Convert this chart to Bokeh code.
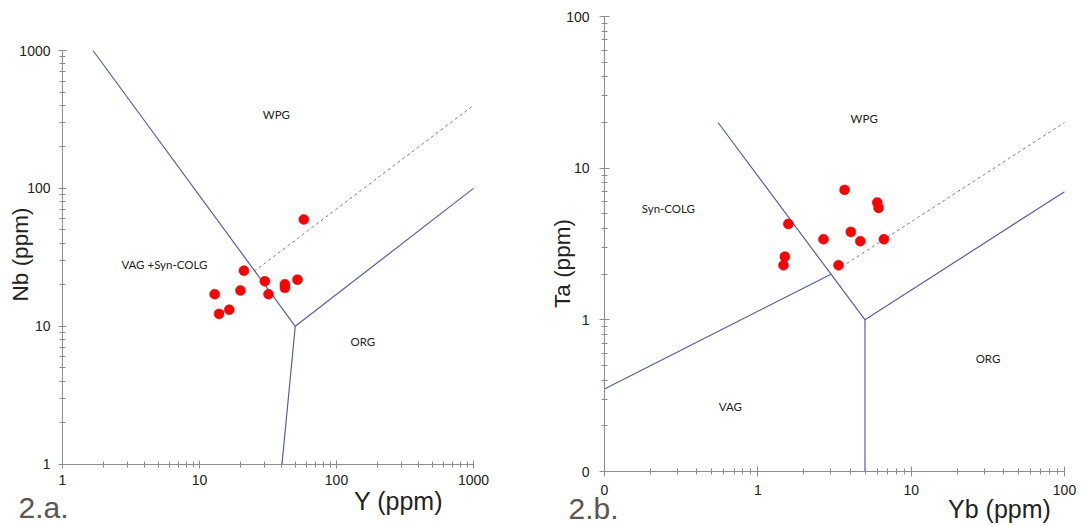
import math
from bokeh.plotting import figure
from bokeh.layouts import row
from bokeh.models import FixedTicker, Label
from bokeh.embed import file_html
from bokeh.resources import INLINE

# ---------------- Panel 2.a : Nb vs Y ----------------
y_ppm = [57.7, 21.1, 30.0, 42.0, 42.0, 51.9, 19.9, 31.9, 12.9, 16.5, 13.9]
nb_ppm = [59.5, 25.3, 21.2, 19.0, 20.2, 21.8, 18.2, 17.1, 17.1, 13.2, 12.3]

a_wpg_x, a_wpg_y = [1.67, 50], [1000, 10]
a_org_x, a_org_y = [50, 1000], [10, 100]
a_low_x, a_low_y = [50, 40], [10, 1]
a_dash_x, a_dash_y = [25, 1000], [25, 400]

a_ticks = [1, 10, 100, 1000]
a_tick_labels = ["1", "10", "100", "1000"]
a_region_names = ["WPG", "VAG +Syn-COLG", "ORG"]
a_region_x = [36.4, 5.54, 155.6]
a_region_y = [343, 27.9, 7.73]

# ---------------- Panel 2.b : Ta vs Yb ----------------
yb_ppm = [3.68, 6.01, 6.13, 1.58, 4.04, 2.68, 4.66, 6.64, 1.50, 1.47, 3.36]
ta_ppm = [7.19, 5.93, 5.47, 4.29, 3.80, 3.40, 3.30, 3.40, 2.61, 2.29, 2.29]

b_vag_x, b_vag_y = [0.1, 3], [0.35, 2]
b_wpg_x, b_wpg_y = [0.55, 3, 5], [20, 2, 1]
b_low_x, b_low_y = [5, 5], [1, 0.1]
b_org_x, b_org_y = [5, 100], [1, 7]
b_dash_x, b_dash_y = [3.8, 100], [2.35, 20]

b_ticks = [0.1, 1, 10, 100]
b_tick_labels = ["0", "1", "10", "100"]
b_region_names = ["WPG", "Syn-COLG", "VAG", "ORG"]
b_region_x = [4.94, 0.261, 0.662, 31.7]
b_region_y = [21.4, 5.41, 0.267, 0.552]

LINE = "#5d5d9a"
DASH = "#7a7aa6"
AXIS = "#8c8c8c"
TXT = "#222222"
PANEL = "#5c564f"
H = 526


def minor_ticks(ticks):
    out = []
    for t in ticks[:-1]:
        out += [m * t for m in range(2, 10)]
    return out


def log_range(lo, hi, p_lo, p_hi, size):
    """Range whose ends sit at the figure edges, so that lo/hi land at p_lo/p_hi px."""
    d = (math.log10(hi) - math.log10(lo)) / (p_hi - p_lo)
    return (10 ** (math.log10(lo) - p_lo * d), 10 ** (math.log10(lo) + (size - p_lo) * d))


def make_fig(width, ticks, xpx, ypx):
    lo, hi = ticks[0], ticks[-1]
    p = figure(width=width, height=H, x_axis_type="log", y_axis_type="log",
               x_range=log_range(lo, hi, xpx[0], xpx[1], width),
               y_range=log_range(lo, hi, ypx[0], ypx[1], H),
               output_backend="svg", toolbar_location=None,
               min_border=0, min_border_left=0, min_border_right=0,
               min_border_top=0, min_border_bottom=0,
               background_fill_color="white", border_fill_color="white")
    p.title.visible = False
    p.grid.visible = False
    p.outline_line_color = None
    return p


def style_axes(p, ticks, labels, xstand, ystand, major_len):
    tick_map = {t: l for t, l in zip(ticks, labels)}
    for ax, st in ((p.xaxis[0], xstand), (p.yaxis[0], ystand)):
        ax.fixed_location = ticks[0]
        ax.bounds = (ticks[0], ticks[-1])
        ax.ticker = FixedTicker(ticks=ticks, minor_ticks=minor_ticks(ticks))
        ax.major_label_overrides = tick_map
        ax.axis_line_color = AXIS
        ax.major_tick_line_color = AXIS
        ax.minor_tick_line_color = AXIS
        ax.major_tick_in = major_len
        ax.major_tick_out = major_len
        ax.minor_tick_in = 3
        ax.minor_tick_out = 3
        ax.major_label_standoff = st
        ax.major_label_text_font = "Liberation Sans"
        ax.major_label_text_font_size = "14px"
        ax.major_label_text_color = TXT


def region_labels(p, names, xs, ys):
    for n, x, y in zip(names, xs, ys):
        p.add_layout(Label(x=x, y=y, text=n, text_align="center", text_baseline="middle",
                           text_font="Lato", text_font_size="11.5px", text_color=TXT))


def titles(p, xlab, xlab_pos, ylab, ylab_pos, panel, panel_pos):
    p.add_layout(Label(x=xlab_pos[0], y=xlab_pos[1], x_units="screen", y_units="screen",
                       text=xlab, text_align="center", text_baseline="middle",
                       text_font="Liberation Sans", text_font_size="25px", text_color=TXT))
    p.add_layout(Label(x=ylab_pos[0], y=ylab_pos[1], x_units="screen", y_units="screen",
                       text=ylab, angle=math.pi / 2, text_align="center",
                       text_baseline="middle", text_font="Liberation Sans",
                       text_font_size="22.5px", text_color=TXT))
    p.add_layout(Label(x=panel_pos[0], y=panel_pos[1], x_units="screen", y_units="screen",
                       text=panel, text_align="left", text_baseline="middle",
                       text_font="Liberation Sans", text_font_size="30px", text_color=PANEL))


# ---- figure a ----  (axis box: x 62..473 px, y 463.7..50 px from the top)
pa = make_fig(540, a_ticks, (62, 473), (H - 463.7, H - 50))
style_axes(pa, a_ticks, a_tick_labels, 7, 8, 4)
for xs, ys in ((a_wpg_x, a_wpg_y), (a_org_x, a_org_y), (a_low_x, a_low_y)):
    pa.line(xs, ys, line_color=LINE, line_width=1.2)
pa.line(a_dash_x, a_dash_y, line_color=DASH, line_width=1, line_dash="3 3")
pa.scatter(y_ppm, nb_ppm, size=10, fill_color="#ff0000", line_color="#e00000", line_width=0.5)
region_labels(pa, a_region_names, a_region_x, a_region_y)
titles(pa, "Y (ppm)", (398, 26), "Nb (ppm)", (20, 272), "2.a.", (18, 19))

# ---- figure b ----  (axis box: x 604..1064 px page, y 471..16 px from the top)
pb = make_fig(541, b_ticks, (64, 524), (H - 471, H - 16))
style_axes(pb, b_ticks, b_tick_labels, 8, 10, 5)
for xs, ys in ((b_vag_x, b_vag_y), (b_wpg_x, b_wpg_y), (b_low_x, b_low_y), (b_org_x, b_org_y)):
    pb.line(xs, ys, line_color=LINE, line_width=1.2)
pb.line(b_dash_x, b_dash_y, line_color=DASH, line_width=1, line_dash="3 3")
pb.scatter(yb_ppm, ta_ppm, size=10, fill_color="#ff0000", line_color="#e00000", line_width=0.5)
region_labels(pb, b_region_names, b_region_x, b_region_y)
titles(pb, "Yb (ppm)", (459, 18), "Ta (ppm)", (22, 263), "2.b.", (28, 18))

layout = row(pa, pb)
open("out.html", "w").write(file_html(layout, INLINE))
